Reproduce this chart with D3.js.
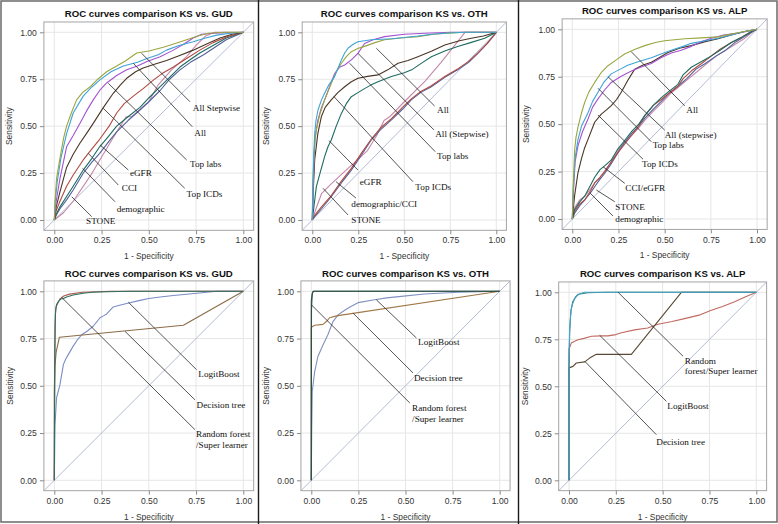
<!DOCTYPE html>
<html><head><meta charset="utf-8">
<script src="https://cdn.jsdelivr.net/npm/d3@7/dist/d3.min.js"></script>
<style>
html,body{margin:0;padding:0;background:#fff;}
svg{display:block;}
</style></head>
<body>
<svg id="chart" width="778" height="524"></svg>
<script>
// ---------------- DATA ----------------
const tickValues = [0, 0.25, 0.5, 0.75, 1];
const titles = ["ROC curves comparison KS vs. GUD", "ROC curves comparison KS vs. OTH", "ROC curves comparison KS vs. ALP",
                "ROC curves comparison KS vs. GUD", "ROC curves comparison KS vs. OTH", "ROC curves comparison KS vs. ALP"];
const xAxisTitle = "1 - Specificity";
const yAxisTitle = "Sensitivity";

// Panel 1 : KS vs. GUD (clinical models)
const gud_allStepwise = [[0,0],[0.005,0.12],[0.012,0.22],[0.03,0.33],[0.05,0.44],[0.065,0.50],[0.09,0.57],[0.118,0.64],[0.15,0.68],[0.19,0.71],[0.23,0.75],[0.277,0.79],[0.33,0.82],[0.38,0.85],[0.436,0.89],[0.5,0.90],[0.577,0.92],[0.64,0.94],[0.70,0.96],[0.76,0.98],[0.815,0.995],[0.9,1],[1,1]];
const gud_all = [[0,0],[0.005,0.1],[0.015,0.2],[0.035,0.33],[0.065,0.46],[0.1,0.57],[0.153,0.66],[0.2,0.71],[0.24,0.745],[0.3,0.79],[0.365,0.82],[0.44,0.84],[0.49,0.86],[0.55,0.88],[0.594,0.905],[0.66,0.93],[0.735,0.95],[0.8,0.97],[0.86,0.985],[0.93,0.995],[1,1]];
const gud_topLabs = [[0,0],[0.01,0.1],[0.03,0.22],[0.065,0.39],[0.1,0.45],[0.136,0.515],[0.17,0.58],[0.206,0.64],[0.24,0.69],[0.277,0.73],[0.33,0.77],[0.383,0.80],[0.44,0.82],[0.49,0.845],[0.56,0.87],[0.63,0.905],[0.69,0.94],[0.735,0.97],[0.78,0.99],[0.84,0.995],[1,1]];
const gud_topICDs = [[0,0],[0.01,0.07],[0.03,0.15],[0.065,0.28],[0.1,0.35],[0.136,0.41],[0.17,0.46],[0.206,0.515],[0.26,0.6],[0.312,0.675],[0.35,0.72],[0.383,0.755],[0.43,0.79],[0.47,0.81],[0.53,0.83],[0.594,0.85],[0.66,0.875],[0.735,0.905],[0.8,0.935],[0.877,0.97],[0.94,0.99],[1,1]];
const gud_eGFR = [[0,0],[0.01,0.05],[0.03,0.1],[0.065,0.18],[0.1,0.24],[0.153,0.32],[0.2,0.38],[0.24,0.43],[0.29,0.5],[0.33,0.57],[0.37,0.62],[0.418,0.66],[0.47,0.70],[0.524,0.745],[0.57,0.78],[0.63,0.815],[0.7,0.86],[0.77,0.905],[0.84,0.945],[0.91,0.975],[1,1]];
const gud_CCI = [[0,0],[0.01,0.03],[0.03,0.07],[0.065,0.125],[0.1,0.18],[0.153,0.266],[0.2,0.33],[0.24,0.39],[0.29,0.45],[0.33,0.50],[0.39,0.55],[0.453,0.60],[0.5,0.65],[0.56,0.71],[0.61,0.76],[0.665,0.815],[0.72,0.855],[0.77,0.89],[0.84,0.93],[0.91,0.97],[1,1]];
const gud_demographic = [[0,0],[0.01,0.025],[0.03,0.06],[0.065,0.107],[0.1,0.16],[0.153,0.249],[0.2,0.31],[0.24,0.355],[0.29,0.42],[0.33,0.47],[0.39,0.53],[0.453,0.586],[0.5,0.63],[0.56,0.69],[0.61,0.75],[0.665,0.80],[0.72,0.84],[0.79,0.88],[0.85,0.92],[0.91,0.96],[1,1]];
const gud_STONE = [[0,0],[0.05,0.04],[0.1,0.1],[0.2,0.25],[0.3,0.42],[0.38,0.55],[0.41,0.55],[0.5,0.63],[0.55,0.72],[0.62,0.8],[0.7,0.87],[0.75,0.93],[0.8,0.98],[0.85,1],[1,1]];

// Panel 2 : KS vs. OTH (clinical models)
const oth_all = [[0,0],[0.003,0.2],[0.008,0.35],[0.013,0.46],[0.02,0.53],[0.031,0.586],[0.05,0.64],[0.067,0.675],[0.09,0.72],[0.121,0.764],[0.14,0.81],[0.158,0.853],[0.176,0.89],[0.194,0.915],[0.22,0.935],[0.248,0.95],[0.32,0.96],[0.43,0.966],[0.5,0.972],[0.574,0.98],[0.65,0.99],[0.72,0.995],[0.83,1],[1,1]];
const oth_allStepwise = [[0,0],[0.003,0.18],[0.01,0.36],[0.02,0.47],[0.04,0.56],[0.067,0.64],[0.1,0.72],[0.13,0.79],[0.158,0.835],[0.185,0.87],[0.212,0.897],[0.25,0.915],[0.284,0.925],[0.34,0.945],[0.393,0.96],[0.48,0.97],[0.574,0.977],[0.66,0.99],[0.75,0.997],[0.83,1],[1,1]];
const oth_topLabs = [[0,0],[0.004,0.15],[0.013,0.426],[0.03,0.53],[0.05,0.6],[0.067,0.64],[0.09,0.7],[0.121,0.78],[0.15,0.815],[0.176,0.826],[0.212,0.853],[0.248,0.888],[0.284,0.94],[0.33,0.96],[0.393,0.977],[0.5,0.99],[0.61,0.995],[0.755,1],[1,1]];
const oth_topICDs = [[0,0],[0.005,0.15],[0.013,0.32],[0.03,0.46],[0.049,0.55],[0.07,0.6],[0.103,0.64],[0.14,0.68],[0.176,0.71],[0.21,0.735],[0.248,0.755],[0.3,0.765],[0.357,0.773],[0.41,0.8],[0.466,0.835],[0.52,0.85],[0.574,0.87],[0.65,0.9],[0.72,0.932],[0.8,0.955],[0.864,0.968],[0.93,0.98],[1,1]];
const oth_eGFR = [[0,0],[0.01,0.08],[0.022,0.178],[0.045,0.26],[0.067,0.338],[0.085,0.39],[0.103,0.426],[0.13,0.5],[0.158,0.568],[0.185,0.62],[0.212,0.657],[0.25,0.68],[0.284,0.70],[0.32,0.72],[0.357,0.737],[0.43,0.764],[0.5,0.785],[0.54,0.80],[0.6,0.84],[0.647,0.87],[0.72,0.9],[0.79,0.924],[0.86,0.945],[0.937,0.968],[1,1]];
const oth_demographic = [[0,0],[0.013,0.018],[0.05,0.06],[0.103,0.124],[0.16,0.2],[0.212,0.266],[0.27,0.35],[0.32,0.426],[0.37,0.48],[0.43,0.533],[0.49,0.59],[0.538,0.64],[0.59,0.68],[0.647,0.71],[0.72,0.76],[0.79,0.80],[0.85,0.84],[0.9,0.888],[0.95,0.94],[1,1]];
const oth_CCI = [[0,0],[0.013,0.025],[0.05,0.07],[0.103,0.13],[0.16,0.21],[0.212,0.275],[0.27,0.36],[0.32,0.43],[0.37,0.49],[0.43,0.54],[0.49,0.6],[0.538,0.645],[0.59,0.685],[0.647,0.715],[0.72,0.765],[0.79,0.805],[0.85,0.845],[0.9,0.89],[0.95,0.94],[1,1]];
const oth_STONE = [[0,0],[0.02,0.06],[0.05,0.14],[0.1,0.19],[0.2,0.28],[0.3,0.37],[0.35,0.45],[0.39,0.53],[0.42,0.55],[0.5,0.63],[0.613,0.74],[0.7,0.84],[0.83,1],[1,1]];

// Panel 3 : KS vs. ALP (clinical models)
const alp_all = [[0,0],[0.004,0.15],[0.0126,0.364],[0.02,0.43],[0.031,0.486],[0.05,0.56],[0.067,0.615],[0.09,0.67],[0.121,0.72],[0.155,0.77],[0.193,0.808],[0.24,0.84],[0.283,0.87],[0.34,0.895],[0.392,0.914],[0.45,0.93],[0.5,0.94],[0.608,0.95],[0.7,0.955],[0.789,0.96],[0.86,0.975],[0.933,0.988],[1,1]];
const alp_allStepwise = [[0,0],[0.005,0.15],[0.015,0.32],[0.031,0.42],[0.05,0.49],[0.085,0.56],[0.11,0.62],[0.139,0.668],[0.17,0.72],[0.211,0.765],[0.26,0.79],[0.30,0.81],[0.36,0.83],[0.428,0.85],[0.48,0.87],[0.536,0.89],[0.6,0.91],[0.644,0.926],[0.72,0.94],[0.789,0.953],[0.86,0.97],[0.933,0.988],[1,1]];
const alp_topLabs = [[0,0],[0.005,0.12],[0.015,0.3],[0.031,0.387],[0.055,0.46],[0.085,0.527],[0.11,0.59],[0.139,0.633],[0.175,0.68],[0.211,0.72],[0.26,0.75],[0.32,0.78],[0.37,0.80],[0.428,0.82],[0.48,0.85],[0.536,0.875],[0.59,0.89],[0.644,0.91],[0.7,0.935],[0.753,0.953],[0.82,0.97],[0.897,0.98],[1,1]];
const alp_topICDs = [[0,0],[0.005,0.05],[0.0126,0.123],[0.03,0.24],[0.049,0.316],[0.065,0.37],[0.085,0.42],[0.121,0.51],[0.157,0.553],[0.185,0.575],[0.211,0.598],[0.24,0.63],[0.265,0.668],[0.3,0.73],[0.338,0.79],[0.38,0.81],[0.428,0.826],[0.47,0.85],[0.518,0.878],[0.58,0.9],[0.644,0.914],[0.72,0.935],[0.789,0.95],[0.86,0.97],[0.933,0.988],[1,1]];
const alp_CCI = [[0,0],[0.0126,0.05],[0.04,0.09],[0.067,0.12],[0.1,0.18],[0.121,0.22],[0.15,0.26],[0.175,0.28],[0.21,0.31],[0.247,0.37],[0.28,0.41],[0.32,0.46],[0.36,0.5],[0.392,0.545],[0.44,0.6],[0.482,0.64],[0.52,0.67],[0.572,0.71],[0.6,0.76],[0.644,0.80],[0.7,0.83],[0.753,0.86],[0.8,0.89],[0.861,0.93],[0.92,0.96],[0.97,0.988],[1,1]];
const alp_eGFR = [[0,0],[0.0126,0.04],[0.04,0.08],[0.067,0.1],[0.1,0.15],[0.121,0.19],[0.15,0.22],[0.175,0.25],[0.21,0.3],[0.247,0.35],[0.28,0.39],[0.32,0.44],[0.36,0.49],[0.392,0.545],[0.44,0.6],[0.482,0.63],[0.52,0.66],[0.572,0.70],[0.6,0.74],[0.644,0.78],[0.7,0.82],[0.753,0.86],[0.8,0.895],[0.861,0.93],[0.92,0.96],[0.97,0.988],[1,1]];
const alp_demographic = [[0,0],[0.0126,0.03],[0.04,0.07],[0.067,0.1],[0.1,0.14],[0.121,0.17],[0.15,0.21],[0.175,0.24],[0.21,0.29],[0.247,0.35],[0.28,0.4],[0.32,0.45],[0.36,0.49],[0.392,0.53],[0.44,0.58],[0.482,0.62],[0.52,0.66],[0.572,0.7],[0.62,0.74],[0.67,0.79],[0.72,0.82],[0.78,0.86],[0.83,0.89],[0.88,0.93],[0.93,0.96],[0.98,0.99],[1,1]];
const alp_STONE = [[0,0],[0.0126,0.06],[0.04,0.1],[0.067,0.12],[0.1,0.16],[0.121,0.19],[0.15,0.22],[0.175,0.25],[0.21,0.3],[0.247,0.36],[0.28,0.40],[0.32,0.44],[0.36,0.48],[0.392,0.52],[0.44,0.57],[0.482,0.61],[0.53,0.66],[0.58,0.7],[0.63,0.74],[0.68,0.78],[0.73,0.82],[0.78,0.86],[0.83,0.89],[0.88,0.92],[0.93,0.95],[0.98,0.99],[1,1]];

// Panel 4 : KS vs. GUD (machine learning)
const gudML_randomForest = [[0,0],[0.002,0.5],[0.004,0.82],[0.007,0.9],[0.012,0.93],[0.021,0.945],[0.035,0.96],[0.048,0.962],[0.065,0.97],[0.1,0.98],[0.153,0.99],[0.2,0.995],[0.28,0.998],[0.4,1],[1,1]];
const gudML_superLearner = [[0,0],[0.001,0.3],[0.003,0.7],[0.006,0.88],[0.01,0.92],[0.02,0.94],[0.03,0.96],[0.05,0.975],[0.08,0.985],[0.15,0.995],[0.3,1],[1,1]];
const gudML_decisionTree = [[0,0],[0,0.47],[0.003,0.6],[0.01,0.68],[0.027,0.757],[0.683,0.82],[1,1]];
const gudML_logitBoost = [[0,0],[0.002,0.15],[0.0035,0.29],[0.012,0.436],[0.03,0.506],[0.048,0.612],[0.06,0.64],[0.074,0.665],[0.1,0.71],[0.12,0.74],[0.145,0.77],[0.175,0.79],[0.206,0.815],[0.242,0.86],[0.26,0.87],[0.277,0.88],[0.312,0.917],[0.34,0.925],[0.383,0.935],[0.453,0.952],[0.5,0.962],[0.56,0.97],[0.63,0.978],[0.7,0.984],[0.78,0.992],[0.86,1.0],[1,1]];

// Panel 5 : KS vs. OTH (machine learning)
const othML_randomForest = [[0,0],[0,0.95],[0.004,0.98],[0.009,1.0],[1,1]];
const othML_superLearner = [[0,0],[0.001,0.9],[0.005,0.99],[0.012,1],[1,1]];
const othML_decisionTree = [[0,0],[0,0.81],[0.018,0.82],[0.062,0.825],[0.08,0.84],[0.097,0.86],[0.133,0.87],[1,1]];
const othML_logitBoost = [[0,0],[0.002,0.25],[0.005,0.47],[0.018,0.575],[0.035,0.655],[0.062,0.716],[0.088,0.77],[0.115,0.84],[0.142,0.875],[0.177,0.9],[0.21,0.92],[0.248,0.94],[0.336,0.955],[0.4,0.965],[0.478,0.973],[0.6,0.986],[0.78,0.995],[1,1]];

// Panel 6 : KS vs. ALP (machine learning)
const alpML_randomForest = [[0,0],[0,0.65],[0.003,0.79],[0.008,0.87],[0.012,0.91],[0.02,0.94],[0.03,0.965],[0.04,0.978],[0.048,0.986],[0.065,0.995],[0.084,1],[1,1]];
const alpML_superLearner = [[0,0],[0,0.6],[0.004,0.8],[0.01,0.9],[0.02,0.95],[0.035,0.975],[0.05,0.99],[0.1,0.998],[0.2,1],[1,1]];
const alpML_logitBoost = [[0,0],[0,0.70],[0.005,0.71],[0.012,0.73],[0.03,0.74],[0.048,0.748],[0.08,0.755],[0.12,0.766],[0.17,0.768],[0.208,0.768],[0.25,0.775],[0.28,0.785],[0.35,0.80],[0.42,0.81],[0.475,0.83],[0.55,0.845],[0.617,0.86],[0.7,0.88],[0.76,0.905],[0.82,0.925],[0.884,0.95],[0.94,0.975],[1,1]];
const alpML_decisionTree = [[0,0],[0,0.598],[0.021,0.606],[0.039,0.624],[0.084,0.63],[0.11,0.65],[0.146,0.67],[0.333,0.67],[0.6,1],[1,1]];

// Annotation labels (text, anchor on curve, leader end, text start) in data units
const gud_labels = [
  {t:["All Stepwise"], a:[0.462,0.888], b:[0.718,0.63], p:[0.733,0.598]},
  {t:["All"], a:[0.418,0.835], b:[0.73,0.497], p:[0.741,0.467]},
  {t:["Top labs"], a:[0.286,0.728], b:[0.70,0.32], p:[0.718,0.297]},
  {t:["Top ICDs"], a:[0.259,0.595], b:[0.69,0.169], p:[0.70,0.142]},
  {t:["eGFR"], a:[0.242,0.40], b:[0.392,0.266], p:[0.40,0.249]},
  {t:["CCI"], a:[0.18,0.355], b:[0.339,0.186], p:[0.357,0.169]},
  {t:["demographic"], a:[0.15,0.275], b:[0.321,0.0975], p:[0.33,0.062]},
  {t:["STONE"], a:[0.092,0.124], b:[0.198,0.018], p:[0.168,-0.004]}
];
const oth_labels = [
  {t:["All"], a:[0.348,0.915], b:[0.665,0.607], p:[0.678,0.586]},
  {t:["All (Stepwise)"], a:[0.248,0.888], b:[0.661,0.48], p:[0.668,0.457]},
  {t:["Top labs"], a:[0.203,0.835], b:[0.668,0.364], p:[0.678,0.341]},
  {t:["Top ICDs"], a:[0.118,0.657], b:[0.547,0.204], p:[0.56,0.177]},
  {t:["eGFR"], a:[0.091,0.4225], b:[0.248,0.266], p:[0.258,0.204]},
  {t:["demographic/CCI"], a:[0.129,0.204], b:[0.237,0.117], p:[0.212,0.089]},
  {t:["STONE"], a:[0.058,0.169], b:[0.194,0.027], p:[0.212,0.0]}
];
const alp_labels = [
  {t:["All"], a:[0.319,0.882], b:[0.609,0.596], p:[0.617,0.575]},
  {t:["All (stepwise)"], a:[0.193,0.75], b:[0.50,0.469], p:[0.50,0.446]},
  {t:["Top labs"], a:[0.139,0.689], b:[0.428,0.407], p:[0.435,0.39]},
  {t:["Top ICDs"], a:[0.139,0.548], b:[0.383,0.315], p:[0.377,0.29]},
  {t:["CCI/eGFR"], a:[0.166,0.276], b:[0.284,0.188], p:[0.287,0.165]},
  {t:["STONE"], a:[0.13,0.153], b:[0.23,0.091], p:[0.233,0.065]},
  {t:["demographic"], a:[0.096,0.137], b:[0.22,0.016], p:[0.233,0.0]}
];
const gudML_labels = [
  {t:["LogitBoost"], a:[0.392,0.942], b:[0.753,0.585], p:[0.762,0.564]},
  {t:["Decision tree"], a:[0.374,0.788], b:[0.744,0.426], p:[0.753,0.40]},
  {t:["Random forest","/Super learner"], a:[0.039,0.968], b:[0.744,0.268], p:[0.75,0.245]}
];
const othML_labels = [
  {t:["LogitBoost"], a:[0.345,0.955], b:[0.558,0.753], p:[0.567,0.732]},
  {t:["Decision tree"], a:[0.221,0.885], b:[0.54,0.568], p:[0.545,0.541]},
  {t:["Random forest","/Super learner"], a:[0,0.929], b:[0.523,0.409], p:[0.535,0.383]}
];
const alpML_labels = [
  {t:["Random","forest/Super learner"], a:[0.262,1.0], b:[0.609,0.66], p:[0.618,0.638]},
  {t:["LogitBoost"], a:[0.164,0.771], b:[0.52,0.42], p:[0.525,0.394]},
  {t:["Decision tree"], a:[0.084,0.633], b:[0.466,0.243], p:[0.466,0.207]}
];

// ---------------- STYLE / LAYOUT ----------------
const C = {olive:"#9aa640", lblue:"#3ea3d6", purple:"#a552d0", brown:"#4a3525", red:"#b04a40",
           teal:"#1d6b60", blue:"#52619c", pink:"#c488a8"};
const panels = [
  {title:titles[0], x0:54.3, x1:243.3, y0:220, y1:32.3, titleY:13.3, ylabX:9.3,
   series:[[gud_STONE,C.pink],[gud_demographic,C.blue],[gud_CCI,C.teal],[gud_eGFR,C.red],[gud_topICDs,C.brown],[gud_topLabs,C.purple],[gud_all,C.lblue],[gud_allStepwise,C.olive]],
   labels:gud_labels},
  {title:titles[1], x0:312.3, x1:496.3, y0:220, y1:32.3, titleY:13.3, ylabX:266.3,
   series:[[oth_STONE,C.pink],[oth_demographic,C.blue],[oth_CCI,C.red],[oth_eGFR,C.teal],[oth_topICDs,C.brown],[oth_topLabs,C.purple],[oth_allStepwise,C.olive],[oth_all,C.lblue]],
   labels:oth_labels},
  {title:titles[2], x0:572.3, x1:757, y0:219, y1:29.3, titleY:10.5, ylabX:526.3,
   series:[[alp_STONE,C.pink],[alp_demographic,C.blue],[alp_eGFR,C.red],[alp_CCI,C.teal],[alp_topICDs,C.brown],[alp_topLabs,C.purple],[alp_allStepwise,C.lblue],[alp_all,C.olive]],
   labels:alp_labels},
  {title:titles[3], x0:54.3, x1:243.3, y0:480.3, y1:291.3, titleY:273, ylabX:10,
   series:[[gudML_logitBoost,"#7c8cc4"],[gudML_decisionTree,"#8a6c48"],[gudML_superLearner,"#b05a50"],[gudML_randomForest,"#2a7060"]],
   labels:gudML_labels},
  {title:titles[4], x0:311.3, x1:499.7, y0:480.3, y1:291.3, titleY:273, ylabX:266.3,
   series:[[othML_logitBoost,"#8090c0"],[othML_decisionTree,"#a07848"],[othML_superLearner,"#355a60"],[othML_randomForest,"#2d5040"]],
   labels:othML_labels},
  {title:titles[5], x0:569, x1:756.3, y0:480.3, y1:292.3, titleY:273, ylabX:525.3,
   series:[[alpML_logitBoost,"#c06a60"],[alpML_decisionTree,"#5a4a35"],[alpML_superLearner,"#2a7a6a"],[alpML_randomForest,"#4aa5cc"]],
   labels:alpML_labels}
];
const PAD = 0.055;

const svg = d3.select("#chart");
svg.append("rect").attr("width",778).attr("height",524).attr("fill","#fff");

panels.forEach(p => {
  const x = d3.scaleLinear().domain([0,1]).range([p.x0,p.x1]);
  const y = d3.scaleLinear().domain([0,1]).range([p.y0,p.y1]);
  const L = x(-PAD), R = x(1+PAD), T = y(1+PAD), B = y(-PAD);
  const g = svg.append("g");

  // grid
  g.selectAll(".gx").data(tickValues).join("line")
    .attr("x1",d=>x(d)).attr("x2",d=>x(d)).attr("y1",T).attr("y2",B)
    .attr("stroke","#e6e6e6").attr("stroke-width",1);
  g.selectAll(".gy").data(tickValues).join("line")
    .attr("x1",L).attr("x2",R).attr("y1",d=>y(d)).attr("y2",d=>y(d))
    .attr("stroke","#e6e6e6").attr("stroke-width",1);

  // diagonal reference
  g.append("line").attr("x1",x(-PAD)).attr("y1",y(-PAD)).attr("x2",x(1+PAD)).attr("y2",y(1+PAD))
    .attr("stroke","#b4bcd4").attr("stroke-width",1);

  // curves
  const line = d3.line().x(d=>x(d[0])).y(d=>y(d[1]));
  p.series.forEach(([data,color]) => {
    g.append("path").attr("d",line(data)).attr("fill","none")
      .attr("stroke",color).attr("stroke-width",1.1).attr("stroke-linejoin","round");
  });

  // frame
  g.append("rect").attr("x",L).attr("y",T).attr("width",R-L).attr("height",B-T)
    .attr("fill","none").attr("stroke","#a4a4a4").attr("stroke-width",1);

  // axes
  const fmt = d3.format(".2f");
  const ax = g.append("g").attr("transform",`translate(0,${B})`)
    .call(d3.axisBottom(x).tickValues(tickValues).tickFormat(fmt).tickSize(4).tickPadding(3));
  const ay = g.append("g").attr("transform",`translate(${L},0)`)
    .call(d3.axisLeft(y).tickValues(tickValues).tickFormat(fmt).tickSize(4).tickPadding(3));
  [ax,ay].forEach(a => {
    a.select(".domain").remove();
    a.selectAll(".tick line").attr("stroke","#8a8a8a");
    a.selectAll(".tick text").attr("fill","#333").style("font-family","'Liberation Sans', Arial, sans-serif").style("font-size","8.6px");
  });

  // axis titles
  g.append("text").attr("x",(x(0)+x(1))/2).attr("y",B+29).attr("text-anchor","middle")
    .style("font-family","'Liberation Sans', Arial, sans-serif").style("font-size","8.4px").attr("fill","#333")
    .text(xAxisTitle);
  g.append("text").attr("transform",`translate(${p.ylabX},${(y(0)+y(1))/2}) rotate(-90)`)
    .attr("text-anchor","middle").attr("dominant-baseline","central")
    .style("font-family","'Liberation Sans', Arial, sans-serif").style("font-size","8.4px").attr("fill","#333")
    .text(yAxisTitle);

  // title
  g.append("text").attr("x",(L+R)/2).attr("y",p.titleY).attr("text-anchor","middle").attr("dominant-baseline","central")
    .style("font-family","'Liberation Sans', Arial, sans-serif").style("font-size","9.6px").style("font-weight","bold").attr("fill","#111")
    .text(p.title);

  // annotations
  p.labels.forEach(lb => {
    g.append("line").attr("x1",x(lb.a[0])).attr("y1",y(lb.a[1])).attr("x2",x(lb.b[0])).attr("y2",y(lb.b[1]))
      .attr("stroke","#2a2a2a").attr("stroke-width",0.8);
    const t = g.append("text").attr("x",x(lb.p[0])).attr("y",y(lb.p[1]))
      .style("font-family","'Liberation Serif', 'Times New Roman', serif").style("font-size","9.2px").attr("fill","#111");
    lb.t.forEach((s,i) => {
      t.append("tspan").attr("x",x(lb.p[0])).attr("dy", i===0 ? "0.35em" : "1.15em").text(s);
    });
  });
});

// borders and separators
svg.append("rect").attr("x",1).attr("y",1).attr("width",776).attr("height",521)
  .attr("fill","none").attr("stroke","#6a6a6a").attr("stroke-width",1.5);
[258.5, 518.5].forEach(xx => {
  svg.append("line").attr("x1",xx).attr("x2",xx).attr("y1",0).attr("y2",524)
    .attr("stroke","#1a1a1a").attr("stroke-width",1.4);
});
</script>
</body></html>
